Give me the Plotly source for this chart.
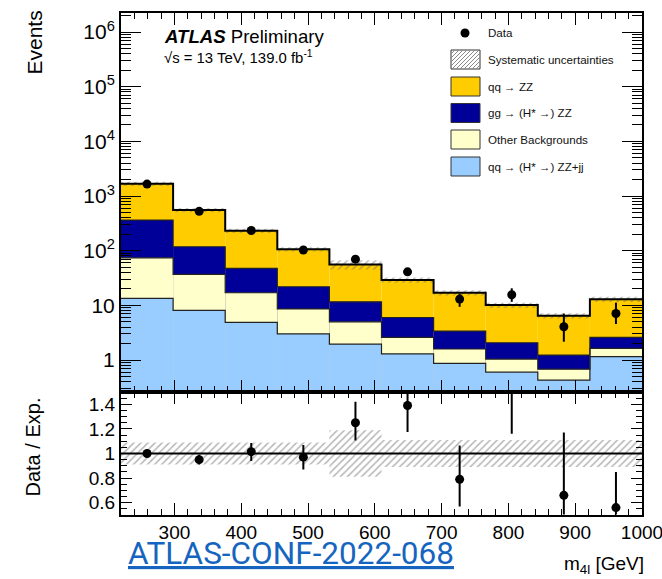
import numpy as np
import plotly.graph_objects as go

# ---------------- data ----------------
bin_edges = [220, 298, 376, 454, 532, 610, 688, 766, 844, 922, 1000]
qq_zzjj = [13.4, 8.1, 4.9, 3.0, 1.96, 1.29, 0.87, 0.60, 0.43, 1.15]
other_bkg = [60.6, 28.8, 12.1, 5.6, 3.04, 1.31, 0.72, 0.44, 0.25, 0.48]
gg_zz = [289, 81, 30.5, 13.3, 6.6, 3.4, 1.8, 1.03, 0.55, 0.97]
qq_zz = [1307, 434, 183.5, 84.1, 44.4, 23.0, 13.6, 8.03, 5.23, 10.3]
syst_rel = [0.09, 0.09, 0.09, 0.09, 0.19, 0.11, 0.11, 0.11, 0.11, 0.11]

data_vals = [1650, 525, 234, 103, 70, 41, 13, 15.6, 4.06, 7.1]
data_err_up = [41, 23, 15, 10, 8.5, 6.5, 3.3, 4.9, 3.0, 4.1]
data_err_dn = [41, 23, 15, 10, 8.5, 6.5, 3.6, 4.0, 1.9, 2.55]

ratio_vals = [1.0, 0.95, 1.015, 0.97, 1.25, 1.39, 0.79, 1.55, 0.66, 0.56]
ratio_err_up = [0.03, 0.04, 0.07, 0.10, 0.17, 0.20, 0.275, 0.40, 0.51, 0.29]
ratio_err_dn = [0.03, 0.04, 0.075, 0.10, 0.145, 0.215, 0.22, 0.39, 0.35, 0.25]

y_tick_vals = [1, 10, 100, 1e3, 1e4, 1e5, 1e6]
y_tick_text = ["1", "10", "10<sup>2</sup>", "10<sup>3</sup>", "10<sup>4</sup>", "10<sup>5</sup>", "10<sup>6</sup>"]
x_tick_vals = [300, 400, 500, 600, 700, 800, 900, 1000]
r_tick_vals = [0.6, 0.8, 1.0, 1.2, 1.4]
r_tick_text = ["0.6", "0.8", "1", "1.2", "1.4"]

legend_labels = ["Data", "Systematic uncertainties", "qq → ZZ", "gg → (H* →) ZZ",
                 "Other Backgrounds", "qq → (H* →) ZZ+jj"]

# ---------------- style ----------------
W, H = 662, 579
C_QQZZ = "#ffcc00"
C_GG = "#000099"
C_OTHER = "#ffffcc"
C_JJ = "#99ccff"
FONT = "Liberation Sans"
HATCH = "#6e6e6e"

edges = np.array(bin_edges, dtype=float)
centers = 0.5 * (edges[:-1] + edges[1:])
widths = np.diff(edges)

layers = [qq_zzjj, other_bkg, gg_zz, qq_zz]
cum = np.cumsum(np.array(layers, dtype=float), axis=0)
total = cum[-1]
colors = [C_JJ, C_OTHER, C_GG, C_QQZZ]

fig = go.Figure()

hatch_marker = dict(color="rgba(0,0,0,0)", line_width=0,
                    pattern=dict(shape="/", fgcolor=HATCH, bgcolor="rgba(0,0,0,0)",
                                 size=5, solidity=0.3, fillmode="overlay"))

# stacked fills (drawn from total down)
for i in reversed(range(4)):
    fig.add_trace(go.Bar(x=centers, y=cum[i], width=widths, marker_color=colors[i],
                         marker_line_width=0, xaxis="x", yaxis="y", showlegend=False))
# systematic hatch in top panel
srel = np.array(syst_rel)
fig.add_trace(go.Bar(x=centers, y=2 * srel * total, base=total * (1 - srel), width=widths,
                     marker=hatch_marker, xaxis="x", yaxis="y", showlegend=False))
# step outlines
for i in range(4):
    yy = np.append(cum[i], cum[i][-1])
    fig.add_trace(go.Scatter(x=edges, y=yy, mode="lines", line_shape="hv",
                             line=dict(color="black" if i == 3 else "#222222", width=2 if i == 3 else 1.2),
                             xaxis="x", yaxis="y", showlegend=False, hoverinfo="skip"))
# data
fig.add_trace(go.Scatter(x=centers, y=data_vals, mode="markers",
                         marker=dict(color="black", size=9),
                         error_y=dict(type="data", array=data_err_up, arrayminus=data_err_dn,
                                      color="black", thickness=2, width=0),
                         xaxis="x", yaxis="y", showlegend=False))

# ratio panel
fig.add_trace(go.Bar(x=centers, y=2 * srel, base=1 - srel, width=widths,
                     marker=hatch_marker, xaxis="x2", yaxis="y2", showlegend=False))
fig.add_trace(go.Scatter(x=[edges[0], edges[-1]], y=[1, 1], mode="lines",
                         line=dict(color="black", width=2), xaxis="x2", yaxis="y2",
                         showlegend=False, hoverinfo="skip"))
fig.add_trace(go.Scatter(x=centers, y=ratio_vals, mode="markers",
                         marker=dict(color="black", size=9),
                         error_y=dict(type="data", array=ratio_err_up, arrayminus=ratio_err_dn,
                                      color="black", thickness=2, width=0),
                         xaxis="x2", yaxis="y2", showlegend=False))

# ---------------- axes ----------------
xdom = [121 / W, 642 / W]
ytop = [1 - 392 / H, 1 - 13 / H]
ybot = [1 - 514.5 / H, 1 - 392 / H]

minor_log = [k * 10.0 ** n for n in range(-1, 7) for k in range(2, 10)]
common = dict(showgrid=False, zeroline=False, showline=True, linecolor="black", linewidth=2,
              mirror="allticks", ticks="inside", tickcolor="black", tickwidth=1,
              ticklabeloverflow="allow", automargin=False)

fig.update_layout(
    width=W, height=H, margin=dict(l=0, r=0, t=0, b=0, autoexpand=False),
    paper_bgcolor="white", plot_bgcolor="white", barmode="overlay", showlegend=False,
    xaxis=dict(domain=xdom, range=[220, 1000], anchor="y", showticklabels=False,
               tickvals=x_tick_vals, ticklen=12,
               minor=dict(dtick=20, tick0=0, ticklen=6, ticks="inside", tickcolor="black"),
               **common),
    yaxis=dict(domain=ytop, type="log", range=[-0.585, 6.3475], anchor="x",
               tickvals=y_tick_vals, ticktext=y_tick_text, ticklen=20,
               tickfont=dict(family=FONT, size=21, color="black"),
               minor=dict(tickvals=minor_log, ticklen=10, ticks="inside", tickcolor="black"),
               **common),
    xaxis2=dict(domain=xdom, range=[220, 1000], anchor="y2", matches="x",
                tickvals=x_tick_vals, ticklen=12,
                tickfont=dict(family=FONT, size=19, color="black"),
                minor=dict(dtick=20, tick0=0, ticklen=6, ticks="inside", tickcolor="black"),
                **common),
    yaxis2=dict(domain=ybot, range=[0.504, 1.50], anchor="x2",
                tickvals=r_tick_vals, ticktext=r_tick_text, ticklen=11,
                tickfont=dict(family=FONT, size=19, color="black"),
                minor=dict(dtick=0.05, tick0=0, ticklen=6, ticks="inside", tickcolor="black"),
                **common),
)

# ---------------- text ----------------
def px(x):
    return x / W

def py(y):
    return 1 - y / H

ann = []
ann.append(dict(text="Events", x=px(33.5), y=py(9), xref="paper", yref="paper", xanchor="center",
                yanchor="top", textangle=-90, showarrow=False, font=dict(family=FONT, size=21, color="black")))
ann.append(dict(text="Data / Exp.", x=px(32), y=py(396), xref="paper", yref="paper", xanchor="center",
                yanchor="top", textangle=-90, showarrow=False, font=dict(family=FONT, size=20, color="black")))
ann.append(dict(text="m<sub>4l</sub> [GeV]", x=px(646), y=py(565), xref="paper", yref="paper",
                xanchor="right", yanchor="middle", showarrow=False, font=dict(family=FONT, size=19, color="black")))
ann.append(dict(text="<b><i>ATLAS</i></b> Preliminary", x=px(162), y=py(36), xref="paper", yref="paper",
                xanchor="left", yanchor="middle", showarrow=False, font=dict(family=FONT, size=18.6, color="black")))
ann.append(dict(text="√s = 13 TeV, 139.0 fb<sup>-1</sup>", x=px(162), y=py(57), xref="paper", yref="paper",
                xanchor="left", yanchor="middle", showarrow=False, font=dict(family=FONT, size=14.9, color="black")))
ann.append(dict(text="ATLAS-CONF-2022-068", x=px(126), y=py(553), xref="paper", yref="paper",
                xanchor="left", yanchor="middle", showarrow=False,
                font=dict(family="Roboto", size=31.5, color="#1565c0", lineposition="under")))

# legend
rows = [33, 59.5, 86.5, 113, 139.5, 166.5]
box_x0, box_x1 = 451, 480
box_h = 19
fills = [None, "hatch", C_QQZZ, C_GG, C_OTHER, C_JJ]
shapes = []
for k, (lab, yc, fc) in enumerate(zip(legend_labels, rows, fills)):
    ann.append(dict(text=lab, x=px(486), y=py(yc), xref="paper", yref="paper", xanchor="left",
                    yanchor="middle", showarrow=False, font=dict(family=FONT, size=11.6, color="#111111")))
    if fc is None:
        shapes.append(dict(type="circle", xref="paper", yref="paper", x0=px(465 - 4.5), x1=px(465 + 4.5),
                           y0=py(yc + 4.5), y1=py(yc - 4.5), fillcolor="black", line=dict(width=0)))
        continue
    y0, y1 = yc - box_h / 2, yc + box_h / 2
    if fc == "hatch":
        shapes.append(dict(type="rect", xref="paper", yref="paper", x0=px(box_x0), x1=px(box_x1),
                           y0=py(y1), y1=py(y0), fillcolor="white", line=dict(color="#333333", width=1)))
        path = ""
        s = box_x0 - box_h
        while s < box_x1:
            xa, ya = s, y1
            xb, yb = s + box_h, y0
            if xa < box_x0:
                ya = y1 - (box_x0 - xa)
                xa = box_x0
            if xb > box_x1:
                yb = y0 + (xb - box_x1)
                xb = box_x1
            if xb > xa:
                path += f"M{px(xa)},{py(ya)} L{px(xb)},{py(yb)} "
            s += 4
        shapes.append(dict(type="path", xref="paper", yref="paper", path=path,
                           line=dict(color="#8a8a8a", width=1)))
    else:
        shapes.append(dict(type="rect", xref="paper", yref="paper", x0=px(box_x0), x1=px(box_x1),
                           y0=py(y1), y1=py(y0), fillcolor=fc, line=dict(color="#333333", width=1)))

fig.update_layout(annotations=ann, shapes=shapes)
fig.write_html("out.html")
